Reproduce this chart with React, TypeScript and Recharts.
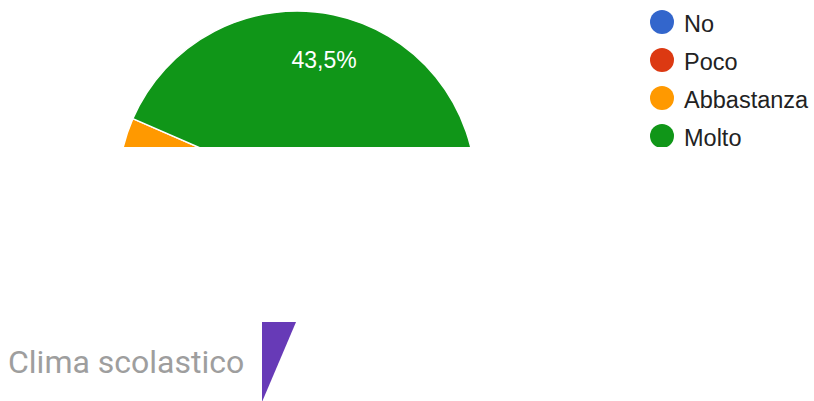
import { PieChart, Pie, Cell, Legend } from 'recharts';

const categories = ['No', 'Poco', 'Abbastanza', 'Molto'];
const responses = [1, 2, 10, 10];
const sliceColors = ['#3366cc', '#dc3912', '#ff9900', '#109618'];

// second (mostly cut off) chart below
const climaTitle = 'Clima scolastico';
const climaValues = [6.4, 93.6];
const climaColors = ['#673ab7', 'transparent'];

const RADIAN = Math.PI / 180;

const data = categories.map((name, i) => ({ name, value: responses[i] }));
const climaData = climaValues.map((value, i) => ({ name: `c${i}`, value }));

function renderLabel(props: any) {
  const { cx, cy, midAngle, percent } = props;
  if (percent < 0.05) return null;
  const r = 133;
  const x = cx + r * Math.cos(-midAngle * RADIAN);
  const y = cy + r * Math.sin(-midAngle * RADIAN);
  return (
    <text
      x={x}
      y={y + 8}
      fill="#ffffff"
      textAnchor="middle"
      fontFamily="'Liberation Sans', Arial, sans-serif"
      fontSize={23}
    >
      {(percent * 100).toFixed(1).replace('.', ',') + '%'}
    </text>
  );
}

function LegendContent(props: any) {
  // keep the data order, not the legend's own sorting
  const items = [...(props.payload || [])].sort(
    (a: any, b: any) => categories.indexOf(a.value) - categories.indexOf(b.value)
  );
  return (
    <svg width={165} height={160}>
      {items.map((item: any, i: number) => (
        <g key={item.value}>
          <circle cx={12} cy={12 + i * 38} r={12} fill={item.color} />
          <text
            x={34}
            y={22 + i * 38}
            fill="#222222"
            fontFamily="'Liberation Sans', Arial, sans-serif"
            fontSize={23.5}
          >
            {item.value}
          </text>
        </g>
      ))}
    </svg>
  );
}

export default function App() {
  return (
    <div style={{ position: 'relative', width: 814, height: 401, background: '#fff', overflow: 'hidden' }}>
      <style>{'body{margin:0}'}</style>

      {/* top chart, cut at the bottom */}
      <div style={{ position: 'absolute', left: 0, top: 0, width: 814, height: 147, overflow: 'hidden' }}>
        <PieChart width={814} height={401} margin={{ top: 0, right: 0, bottom: 0, left: 0 }}>
          <Pie
            data={data}
            dataKey="value"
            nameKey="name"
            cx={297}
            cy={190}
            outerRadius={179}
            startAngle={0}
            endAngle={-360}
            stroke="#ffffff"
            strokeWidth={1.5}
            label={renderLabel}
            labelLine={false}
            isAnimationActive={false}
          >
            {data.map((d, i) => (
              <Cell key={d.name} fill={sliceColors[i]} />
            ))}
          </Pie>
          <Legend
            layout="vertical"
            align="right"
            verticalAlign="top"
            content={<LegendContent />}
            wrapperStyle={{ left: 650, top: 10, width: 165 }}
          />
        </PieChart>
      </div>

      {/* second chart, only a sliver visible */}
      <div style={{ position: 'absolute', left: 0, top: 322, width: 814, height: 79, overflow: 'hidden' }}>
        <div style={{ position: 'absolute', left: 0, top: -322 }}>
          <PieChart width={814} height={401} margin={{ top: 0, right: 0, bottom: 0, left: 0 }}>
            <Pie
              data={climaData}
              dataKey="value"
              cx={262}
              cy={402}
              outerRadius={200}
              startAngle={90}
              endAngle={-270}
              stroke="none"
              isAnimationActive={false}
            >
              {climaData.map((d, i) => (
                <Cell key={d.name} fill={climaColors[i]} />
              ))}
            </Pie>
          </PieChart>
        </div>
      </div>

      <div
        style={{
          position: 'absolute',
          left: 8,
          top: 346,
          fontFamily: 'Roboto, sans-serif',
          fontSize: 32,
          lineHeight: '32px',
          color: '#9e9e9e',
          whiteSpace: 'nowrap',
        }}
      >
        {climaTitle}
      </div>
    </div>
  );
}
